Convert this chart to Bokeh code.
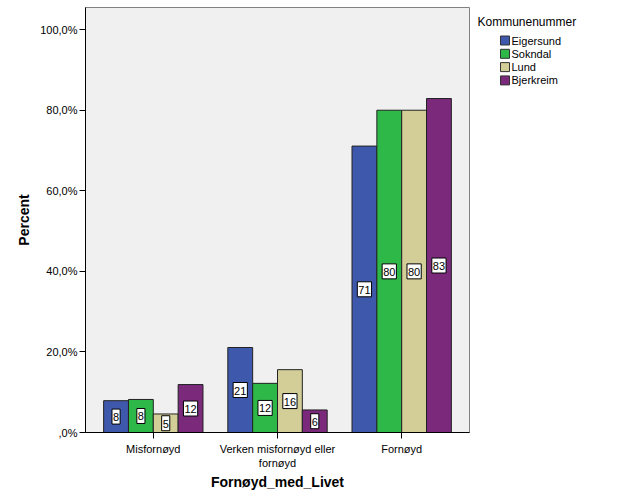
from bokeh.plotting import figure
from bokeh.layouts import row
from bokeh.models import Range1d, FixedTicker, ColumnDataSource
from bokeh.core.properties import value
from bokeh.embed import file_html
from bokeh.resources import INLINE

categories = ["Misfornøyd", "Verken misfornøyd eller fornøyd", "Fornøyd"]
category_labels = ["Misfornøyd", "Verken misfornøyd eller\nfornøyd", "Fornøyd"]
groups = ["Eigersund", "Sokndal", "Lund", "Bjerkreim"]
colors = ["#3e58ac", "#2eb848", "#d3ce97", "#7b2a7b"]
eigersund = [7.9, 21.1, 71.1]
sokndal = [8.2, 12.2, 80.0]
lund = [4.6, 15.6, 80.0]
bjerkreim = [11.9, 5.6, 82.9]
series = [eigersund, sokndal, lund, bjerkreim]
y_ticks = [0, 20, 40, 60, 80, 100]
y_tick_labels = [",0%", "20,0%", "40,0%", "60,0%", "80,0%", "100,0%"]
legend_title = "Kommunenummer"

FONT = "Liberation Sans"
H = 504
TOP, BOTTOM = 7, 72
p = figure(width=472, height=H, output_backend="svg", toolbar_location=None,
           x_range=Range1d(-0.046, 3.046), y_range=Range1d(0, 105.5),
           min_border_left=85, min_border_right=3, min_border_top=TOP, min_border_bottom=BOTTOM)
p.background_fill_color = "#f0f0f0"
p.border_fill_color = "white"
p.outline_line_color = "#808080"
p.xgrid.visible = False
p.ygrid.visible = False

offsets = [-0.3, -0.1, 0.1, 0.3]
bar_w = 0.2
for g, vals, col, off in zip(groups, series, colors, offsets):
    xs = [i + 0.5 + off for i in range(len(categories))]
    src = ColumnDataSource(dict(x=xs, top=vals, mid=[v / 2 for v in vals],
                                lab=[str(int(round(v))) for v in vals]))
    p.vbar(x="x", top="top", width=bar_w, bottom=0, source=src,
           fill_color=col, line_color="#222222", line_width=1)
    p.text(x="x", y="mid", text="lab", source=src, text_align="center",
           text_baseline="middle", text_font=value(FONT), text_font_size="11px",
           text_color="black", background_fill_color="white",
           border_line_color="black", border_line_width=1,
           padding=dict(left=1, right=1, top=4, bottom=3))

p.xaxis.ticker = FixedTicker(ticks=[i + 0.5 for i in range(len(categories))])
p.xaxis.major_label_overrides = {i + 0.5: lab for i, lab in enumerate(category_labels)}
p.yaxis.ticker = FixedTicker(ticks=y_ticks)
p.yaxis.major_label_overrides = {t: l for t, l in zip(y_ticks, y_tick_labels)}
for ax in (p.xaxis[0], p.yaxis[0]):
    ax.axis_line_color = "black"
    ax.major_tick_line_color = "black"
    ax.major_tick_in = 0
    ax.major_tick_out = 6
    ax.minor_tick_line_color = None
    ax.major_label_text_font = FONT
    ax.major_label_text_font_size = "11px"
    ax.major_label_text_color = "black"
    ax.axis_label_text_font = FONT
    ax.axis_label_text_font_size = "14px"
    ax.axis_label_text_font_style = "bold"
    ax.axis_label_text_color = "black"
p.xaxis.axis_label = "Fornøyd_med_Livet"
p.yaxis.axis_label = "Percent"
p.xaxis.major_label_standoff = 4
p.yaxis.major_label_standoff = 2
p.xaxis.axis_label_standoff = 2
p.yaxis.axis_label_standoff = 5

# legend panel: frame aligned with main plot, ranges in page pixels (y downward)
lw = 157
q = figure(width=lw, height=H, output_backend="svg", toolbar_location=None,
           x_range=Range1d(0, lw), y_range=Range1d(H - BOTTOM, TOP),
           min_border_left=0, min_border_right=0, min_border_top=TOP, min_border_bottom=BOTTOM,
           x_axis_type=None, y_axis_type=None)
q.outline_line_color = None
q.xgrid.visible = False
q.ygrid.visible = False
q.background_fill_color = "white"
n = len(groups)
row_h = 13.3
ys = [40 + i * row_h for i in range(n)]
lsrc = ColumnDataSource(dict(y=ys, name=groups, color=colors))
q.rect(x=32.5, y="y", width=9, height=9, source=lsrc, fill_color="color",
       line_color="#333333", line_width=1)
q.text(x=39, y="y", text="name", source=lsrc, text_font=value(FONT),
       text_font_size="11px", text_baseline="middle", text_color="black")
q.text(x=[5], y=[21], text=[legend_title], text_font=value(FONT),
       text_font_size="12px", text_baseline="middle", text_color="black")

layout = row(p, q, spacing=0)
open("out.html", "w").write(file_html(layout, INLINE))
